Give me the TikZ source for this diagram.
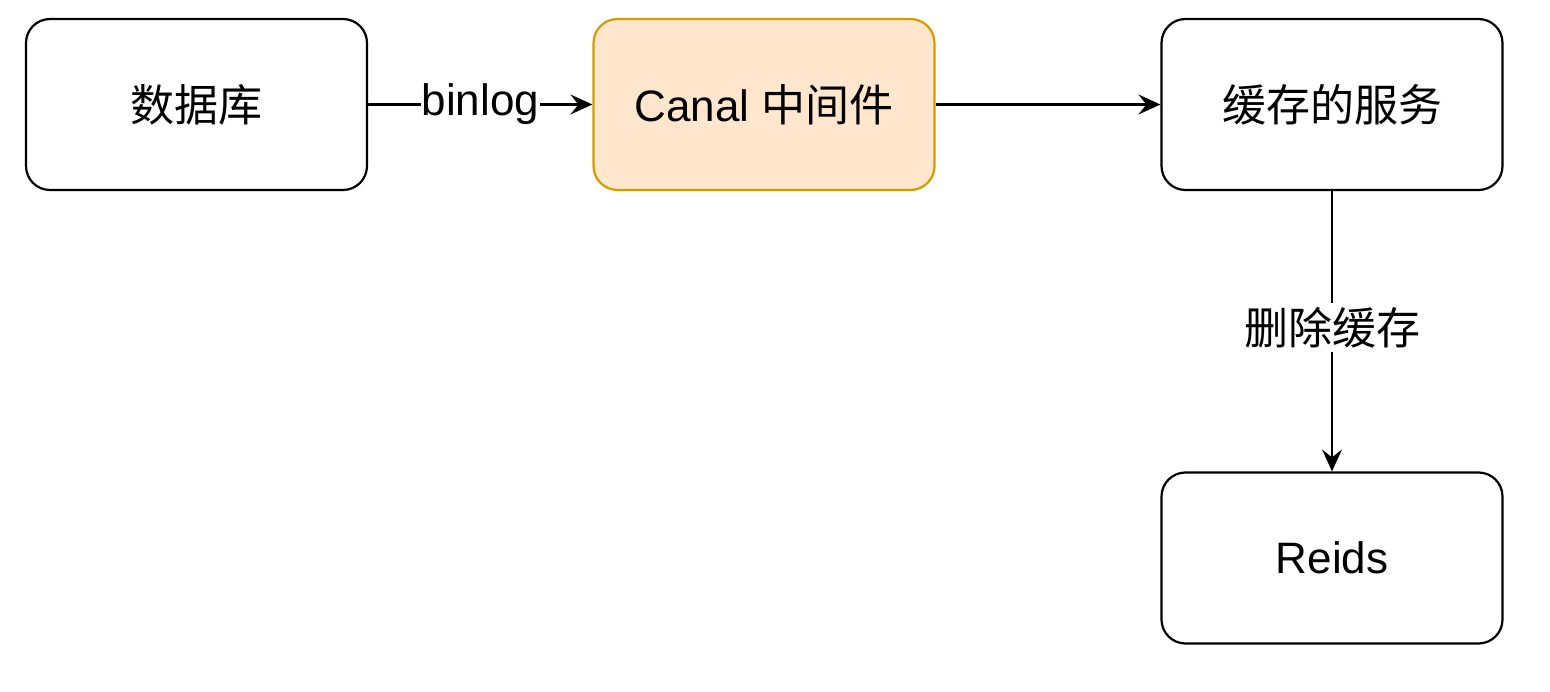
\documentclass[tikz,border=0pt]{standalone}
\usepackage{fontspec}
\setmainfont{Liberation Sans}
\newfontfamily\cjk{Noto Sans CJK SC}
\usetikzlibrary{arrows.meta}
\definecolor{orfill}{HTML}{FFE6CC}
\definecolor{ordraw}{HTML}{D79B00}
\begin{document}
\begin{tikzpicture}[x=1pt,y=-1pt,
  box/.style={draw=black,line width=2.2pt,rounded corners=24pt,minimum width=341pt,minimum height=171pt,inner sep=0pt,fill=white,font=\fontsize{44}{52}\selectfont},
  conn/.style={line width=2.2pt,-{Stealth[length=22pt,width=20pt,inset=8pt]}},
  lbl/.style={fill=white,inner sep=4pt,font=\fontsize{44}{52}\selectfont}]
\useasboundingbox (0,0) rectangle (1550,692);
\node[box] (db) at (196.5,104.5) {\cjk 数据库};
\node[box,fill=orfill,draw=ordraw] (canal) at (764,104.5) {Canal {\cjk 中间件}};
\node[box] (svc) at (1332,104.5) {\cjk 缓存的服务};
\node[box] (redis) at (1332,558) {Reids};
\draw[conn] (db) -- node[lbl,inner sep=1pt] {binlog} (canal);
\draw[conn] (canal) -- (svc);
\draw[conn] (svc) -- node[lbl,pos=0.487] {\cjk 删除缓存} (redis);
\end{tikzpicture}
\end{document}
